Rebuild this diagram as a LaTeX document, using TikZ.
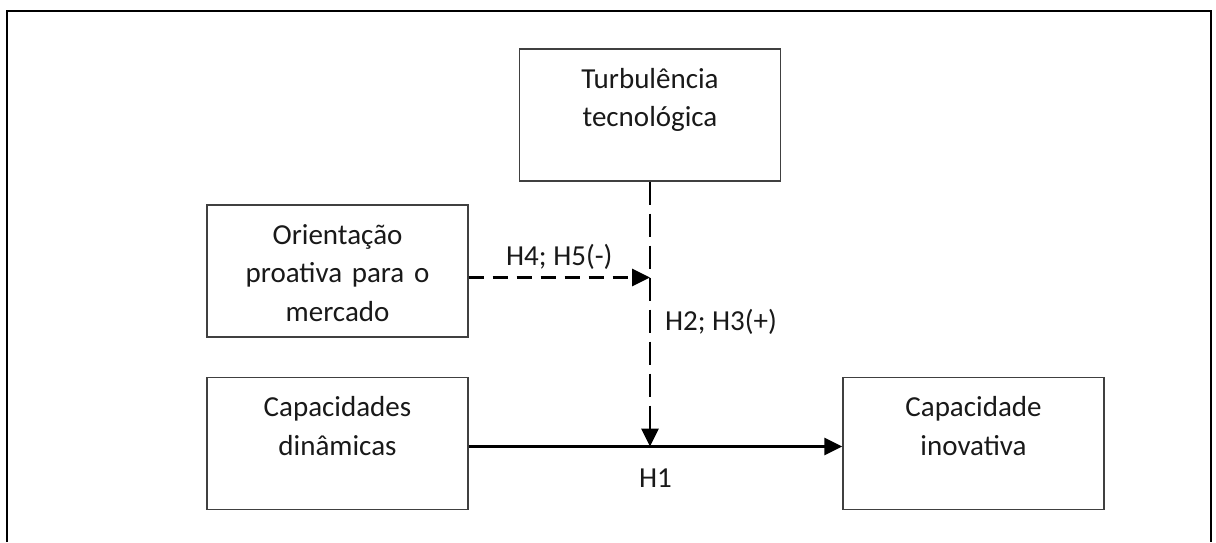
\documentclass[tikz,border=0pt]{standalone}
\usepackage{fontspec}
\setmainfont{Carlito}
\usetikzlibrary{arrows.meta}

\begin{document}
\begin{tikzpicture}[x=0.5pt, y=-0.5pt, node distance=86.25pt]
        \tikzstyle{every node}=[font=\fontsize{14.5}{19.25}\selectfont, text=black!90]
        \tikzstyle{box}=[rectangle, draw=black!75, line width=0.65pt, text width=126pt, align=center, inner xsep=2.25pt, inner ysep=0pt, text height=19.5pt, text depth=46.5pt]
        \tikzstyle{link}=[line width=1.4pt, -{Triangle[length=9pt, width=8.5pt]}]
        \tikzstyle{shortdash}=[link, dash pattern=on 7.5pt off 4.5pt]
        \tikzstyle{longdash}=[link, dash pattern=on 11.5pt off 4.5pt]

        \useasboundingbox (0,0) rectangle (1216,542);
        % Frame
        \draw[line width=1.1pt] (7,542) -- (7,11) -- (1211,11) -- (1211,542);

        % Nodes
        \node (tur) [box] at (650,115) {Turbulência\\tecnológica};
        \node (ori) [box] at (337.5,271) {Orientação\\proativa para o\\mercado};
        \node (cap) [box, below of=ori] {Capacidades\\dinâmicas};
        \node (inov) [box, right of=cap, node distance=318pt] {Capacidade\\inovativa};
        \coordinate (mod) at (650,277.5);
        \coordinate (meet) at (650,446.5);

        % Edges
        \draw[shortdash] (ori.east |- mod) -- (mod) node[midway, above] {H4; H5(-)};
        \draw[longdash] (tur.south) -- (meet) node[pos=0.53, right=3.5pt] {H2; H3(+)};
        \draw[link] (cap.east |- meet) -- (inov.west |- meet) node[midway, below=7pt] {H1};

\end{tikzpicture}
\end{document}
